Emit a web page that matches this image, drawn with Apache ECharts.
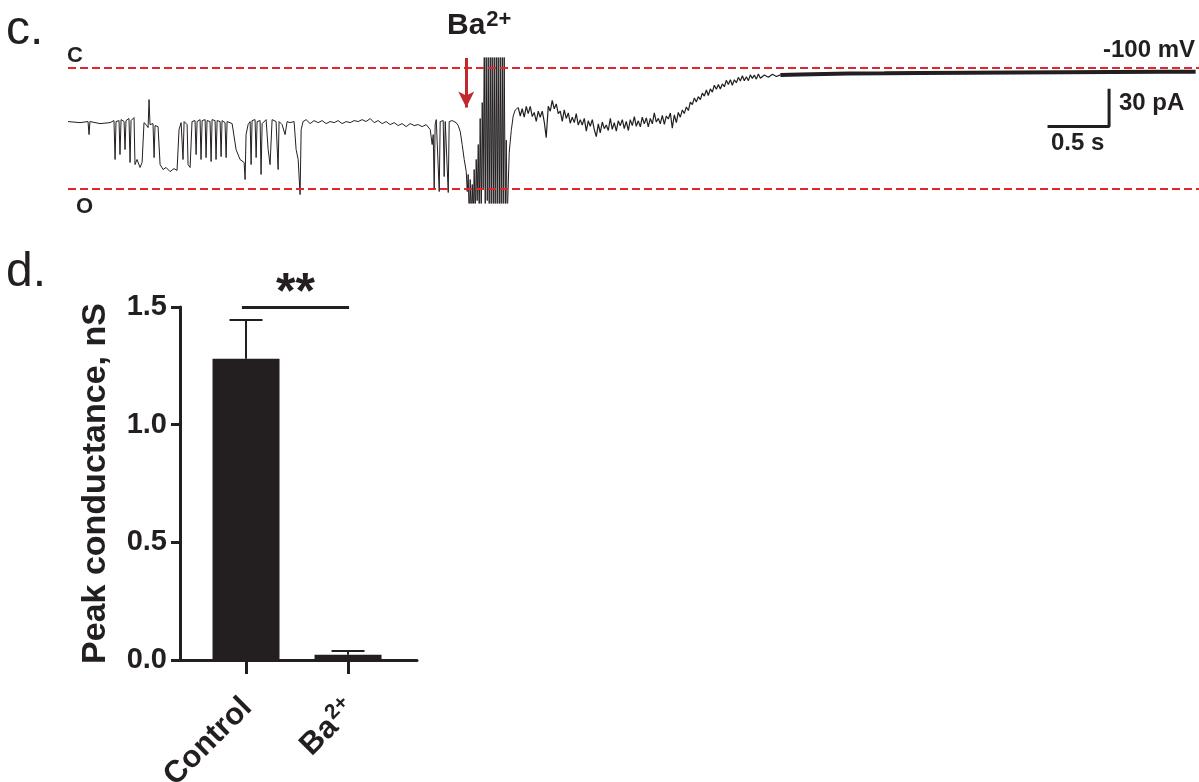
<!DOCTYPE html>
<html>
<head>
<meta charset="utf-8">
<script src="https://cdn.jsdelivr.net/npm/echarts@6/dist/echarts.min.js"></script>
<style>
    html, body { margin: 0; padding: 0; background: #fff; }
    #chart { width: 1199px; height: 782px; }
</style>
</head>
<body>
<div id="chart"></div>
<script>
// ---- panel c: single channel recording, [time s, current pA], closed level = 0 ----
var preDrug = [
    [0,-44.6],[0.100,-45.5],[0.167,-44.6],[0.175,-55.4],[0.183,-44.6],[0.267,-46.3],[0.350,-45.5],[0.383,-43.8],
    [0.392,-76.0],[0.400,-44.6],[0.425,-43.8],[0.433,-71.9],[0.442,-43.0],[0.467,-44.6],[0.475,-67.8],[0.483,-43.8],
    [0.508,-42.1],[0.517,-78.5],[0.525,-43.8],[0.550,-41.3],[0.558,-80.2],[0.575,-76.0],[0.600,-82.6],[0.617,-78.5],
    [0.633,-45.5],[0.650,-47.1],[0.667,-49.6],[0.675,-26.4],[0.683,-47.1],[0.708,-46.3],[0.717,-74.4],[0.725,-47.9],
    [0.750,-48.8],[0.767,-80.2],[0.792,-84.3],[0.817,-82.6],[0.850,-86.0],[0.883,-83.5],[0.908,-85.1],[0.925,-51.2],
    [0.942,-45.5],[0.958,-76.0],[0.967,-44.6],[0.992,-47.1],[1.000,-80.2],[1.017,-82.6],[1.033,-44.6],[1.058,-43.8],
    [1.067,-71.9],[1.075,-44.6],[1.100,-43.0],[1.108,-76.0],[1.117,-43.8],[1.142,-43.0],[1.150,-74.4],[1.158,-43.8],
    [1.183,-44.6],[1.192,-77.7],[1.200,-43.0],[1.225,-43.8],[1.233,-76.0],[1.242,-43.8],[1.267,-44.6],[1.275,-73.6],
    [1.283,-43.8],[1.308,-45.5],[1.317,-74.4],[1.325,-44.6],[1.367,-46.3],[1.400,-67.8],[1.433,-76.0],[1.467,-78.5],
    [1.475,-92.6],[1.483,-55.4],[1.500,-47.1],[1.517,-44.6],[1.525,-80.2],[1.533,-43.8],[1.558,-43.0],[1.567,-74.4],
    [1.575,-44.6],[1.600,-43.8],[1.608,-88.4],[1.617,-46.3],[1.650,-43.0],[1.667,-67.8],[1.683,-80.2],[1.700,-43.0],
    [1.733,-44.6],[1.750,-84.3],[1.758,-44.6],[1.783,-47.1],[1.808,-55.4],[1.825,-44.6],[1.850,-45.5],[1.883,-44.6],
    [1.900,-67.8],[1.917,-76.0],[1.933,-105.0],[1.942,-51.2],[1.958,-44.6],[1.983,-43.0]
];
var preBaBaseline = [
    [2.017,-46.3],[2.050,-43.8],[2.083,-45.5],[2.117,-43.8],[2.150,-46.3],[2.183,-44.6],[2.217,-45.5],[2.250,-43.8],
    [2.283,-46.3],[2.317,-44.6],[2.350,-45.5],[2.383,-43.8],[2.417,-44.6],[2.450,-43.0],[2.483,-44.6],[2.517,-42.1],
    [2.550,-45.5],[2.583,-43.8],[2.617,-46.3],[2.650,-44.6],[2.683,-47.1],[2.717,-45.5],[2.750,-47.9],[2.783,-46.3],
    [2.817,-48.8],[2.850,-46.3],[2.883,-47.9],[2.917,-47.1],[2.950,-48.8],[2.983,-47.1]
];
var baResponse = [
    [3.017,-51.2],[3.033,-63.6],[3.042,-55.4],[3.050,-100.8],[3.058,-47.1],[3.067,-43.0],[3.083,-44.6],[3.092,-102.5],
    [3.100,-44.6],[3.125,-43.8],[3.133,-90.1],[3.142,-44.6],[3.158,-43.8],[3.167,-103.3],[3.175,-44.6],[3.200,-43.8],
    [3.233,-45.5],[3.250,-47.9],[3.267,-52.9],[3.283,-63.6],[3.300,-76.0],[3.317,-86.0],[3.325,-102.5],[3.333,-88.4],
    [3.342,-125],[3.350,-92.6],[3.358,-125],[3.367,-96.7],[3.375,-125],[3.383,-84.3],[3.392,-125],[3.400,-76.0],
    [3.408,-110],[3.417,-63.6],[3.425,-125],[3.433,-42.1],[3.442,-125],[3.450,-28.9],[3.458,-100],[3.467,15],
    [3.475,-125],[3.483,15],[3.492,-110],[3.500,15],[3.508,-125],[3.517,15],[3.525,-125],[3.533,15],
    [3.542,-125],[3.550,15],[3.558,-125],[3.567,15],[3.575,-125],[3.583,15],[3.592,-125],[3.600,15],
    [3.608,-125],[3.617,12],[3.625,-125],[3.633,15],[3.642,-125],[3.650,-60],[3.658,-125],[3.675,-70],
    [3.692,-52],[3.708,-40],[3.725,-35],[3.750,-33]
];
var recovery = [
    [3.750,-33],[3.767,-40],[3.783,-34],[3.800,-41],[3.817,-32],[3.833,-38],[3.850,-32],[3.867,-40.5],
    [3.883,-37],[3.900,-44.5],[3.917,-36],[3.933,-41],[3.950,-36],[3.967,-45],[3.983,-58],[4.000,-32],
    [4.017,-36],[4.033,-27],[4.050,-34],[4.067,-30],[4.083,-38],[4.100,-36],[4.117,-44.5],[4.133,-35],
    [4.150,-42],[4.167,-37.5],[4.183,-46],[4.200,-41],[4.217,-45.5],[4.233,-38],[4.250,-47.5],[4.267,-43],
    [4.283,-47.5],[4.300,-42],[4.317,-52.5],[4.333,-44],[4.350,-48.5],[4.367,-43],[4.383,-51],[4.400,-57],
    [4.417,-46.5],[4.433,-54],[4.450,-45],[4.467,-50.5],[4.483,-47.5],[4.500,-52],[4.517,-42],[4.533,-51],
    [4.550,-45.5],[4.567,-52.5],[4.583,-44],[4.600,-48],[4.617,-43],[4.633,-50.5],[4.650,-44.5],[4.667,-52],
    [4.683,-43],[4.700,-48],[4.717,-40.5],[4.733,-48.5],[4.750,-44],[4.767,-49],[4.783,-41],[4.800,-46.5],
    [4.817,-41.5],[4.833,-49],[4.850,-42],[4.867,-46.5],[4.883,-37.5],[4.900,-45],[4.917,-42],[4.933,-46.5],
    [4.950,-39.5],[4.967,-47],[4.983,-40],[5.000,-42.5],[5.017,-37.5],[5.033,-50],[5.050,-39],[5.067,-45.5],
    [5.083,-37],[5.100,-41],[5.117,-35],[5.133,-38],[5.150,-32.5],[5.167,-35.5],[5.183,-28.5],[5.200,-30.5],
    [5.217,-25],[5.233,-28.5],[5.250,-24],[5.267,-26.5],[5.283,-21],[5.300,-23.5],[5.317,-18.5],[5.333,-23],
    [5.350,-17.5],[5.367,-20.2],[5.383,-14.5],[5.400,-17.8],[5.417,-14],[5.433,-17.7],[5.450,-13.5],[5.467,-15.8],
    [5.483,-10.5],[5.500,-14],[5.517,-10],[5.533,-14.5],[5.550,-10],[5.567,-12.5],[5.583,-8],[5.600,-11.1],
    [5.617,-6.7],[5.633,-10.8],[5.650,-7.5],[5.667,-10.7],[5.683,-6],[5.700,-8.9],[5.717,-6.2],[5.733,-9.5],
    [5.750,-5.3],[5.767,-8.7],[5.800,-6],[5.833,-8],[5.867,-5.5],[5.900,-7.3],[5.933,-6]
];
var steadyState = [
    [5.933,-6],[6.100,-5.6],[6.300,-5.2],[6.500,-4.9],[6.800,-4.7],[7.100,-4.4],[7.500,-4.2],[7.900,-4.0],
    [8.300,-3.8],[8.700,-3.6],[9.100,-3.4],[9.392,-3.3]
];
var closedLevel = 0;
var openLevel = -100;
var baApplyTime = 3.317;
var scaleTime = 0.5;      // s
var scaleCurrent = 30;    // pA
var scaleCorner = [8.671, -48.6];

// ---- panel d: peak conductance ----
var categories = ['Control', 'Ba2+'];
var conductance = [1.28, 0.022];
var sem = [0.165, 0.016];
var yTicks = [0, 0.5, 1.0, 1.5];

var ink = '#231f20';
var red = '#e3262c';
var font = 'Liberation Sans, Arial, Helvetica, sans-serif';

var myChart = echarts.init(document.getElementById('chart'));

var barData = categories.map(function (c, i) { return [i + 1, conductance[i]]; });
var errData = categories.map(function (c, i) { return [i + 1, conductance[i], conductance[i] + sem[i]]; });
var scaleBar = [
    [scaleCorner[0] - scaleTime, scaleCorner[1]],
    [scaleCorner[0], scaleCorner[1]],
    [scaleCorner[0], scaleCorner[1] + scaleCurrent]
];

myChart.setOption({
    animation: false,
    backgroundColor: '#fff',
    textStyle: { fontFamily: font, color: ink },
    grid: [
        { left: 68, top: 58, width: 1131, height: 145, outerBoundsMode: 'none' },
        { left: 180, top: 307, width: 237, height: 353, outerBoundsMode: 'none' }
    ],
    xAxis: [
        { gridIndex: 0, type: 'value', min: 0, max: 9.42, show: false },
        {
            gridIndex: 1, type: 'value', min: 0.353, max: 2.676,
            splitLine: { show: false },
            axisLine: { show: true, lineStyle: { color: ink, width: 3 } },
            axisTick: { show: true, customValues: [1, 2], length: 14, lineStyle: { color: ink, width: 3 } },
            axisLabel: {
                customValues: [1, 2], rotate: 45, margin: 22, verticalAlign: 'top', padding: [0, 14, 0, 0],
                fontSize: 31, fontWeight: 'bold', color: ink, fontFamily: font,
                formatter: function (v) {
                    return v === 1 ? '{b|' + categories[0] + '}' : '{b|Ba}{s|2+}';
                },
                rich: {
                    b: { fontSize: 31, fontWeight: 'bold', color: ink, fontFamily: font },
                    s: { fontSize: 21, fontWeight: 'bold', color: ink, fontFamily: font, padding: [0, 0, 16, 1] }
                }
            }
        }
    ],
    yAxis: [
        { gridIndex: 0, type: 'value', min: -112, max: 8, show: false },
        {
            gridIndex: 1, type: 'value', min: 0, max: 1.5, interval: 0.5,
            splitLine: { show: false },
            axisLine: { show: true, onZero: false, lineStyle: { color: ink, width: 3 } },
            axisTick: { show: true, length: 9, lineStyle: { color: ink, width: 3 } },
            axisLabel: {
                fontSize: 29, fontWeight: 'bold', color: ink, margin: 13, fontFamily: font,
                formatter: function (v) { return v.toFixed(1); }
            },
            name: 'Peak conductance, nS',
            nameLocation: 'middle', nameRotate: 90, nameGap: 67,
            nameTextStyle: { fontSize: 34, fontWeight: 'bold', color: ink, fontFamily: font }
        }
    ],
    series: [
        {
            name: 'pre', type: 'line', xAxisIndex: 0, yAxisIndex: 0,
            data: preDrug.concat(preBaBaseline, baResponse),
            showSymbol: false, lineStyle: { color: ink, width: 1 }, z: 3,
            markLine: {
                silent: true, symbol: 'none',
                label: { show: false },
                lineStyle: { color: red, width: 2, type: [8, 4] },
                data: [
                    { yAxis: closedLevel },
                    { yAxis: openLevel },
                    [
                        { coord: [baApplyTime, 8], symbol: 'none', lineStyle: { color: '#c1272d', width: 3, type: 'solid' } },
                        { coord: [baApplyTime, -33], symbol: 'arrow', symbolSize: [12, 16] }
                    ]
                ]
            }
        },
        {
            name: 'recovery', type: 'line', xAxisIndex: 0, yAxisIndex: 0,
            data: recovery, showSymbol: false, lineStyle: { color: ink, width: 1.2 }, z: 3
        },
        {
            name: 'steady', type: 'line', xAxisIndex: 0, yAxisIndex: 0,
            data: steadyState, showSymbol: false, lineStyle: { color: ink, width: 4 }, z: 3
        },
        {
            name: 'scale', type: 'line', xAxisIndex: 0, yAxisIndex: 0,
            data: scaleBar, showSymbol: false, lineStyle: { color: ink, width: 3, cap: 'square' }, z: 3
        },
        {
            name: 'conductance', type: 'bar', xAxisIndex: 1, yAxisIndex: 1,
            data: barData, barWidth: 67, itemStyle: { color: ink },
            markLine: {
                silent: true, symbol: 'none',
                lineStyle: { color: ink, width: 3, type: 'solid' },
                label: { show: true, position: 'middle', formatter: '**', fontSize: 50, fontWeight: 'bold', color: ink, distance: -12 },
                data: [[{ coord: [0.96, 1.5] }, { coord: [2.01, 1.5] }]]
            }
        },
        {
            name: 'sem', type: 'custom', xAxisIndex: 1, yAxisIndex: 1,
            data: errData, z: 5,
            renderItem: function (params, api) {
                var base = api.coord([api.value(0), api.value(1)]);
                var top = api.coord([api.value(0), api.value(2)]);
                var half = 16.5;
                return {
                    type: 'group',
                    children: [
                        { type: 'line', shape: { x1: top[0], y1: base[1], x2: top[0], y2: top[1] }, style: { stroke: ink, lineWidth: 2 } },
                        { type: 'line', shape: { x1: top[0] - half, y1: top[1], x2: top[0] + half, y2: top[1] }, style: { stroke: ink, lineWidth: 2 } }
                    ]
                };
            }
        }
    ],
    graphic: [
        { type: 'text', left: 6, top: 7, style: { text: 'c.', fontSize: 48, fontFamily: font, fill: ink } },
        { type: 'text', left: 6, top: 249, style: { text: 'd.', fontSize: 48, fontFamily: font, fill: ink } },
        { type: 'text', left: 447, top: 9, style: {
            text: '{b|Ba}{s|2+}', fill: ink,
            rich: {
                b: { fontSize: 30, fontWeight: 'bold', fontFamily: font, fill: ink },
                s: { fontSize: 22, fontWeight: 'bold', fontFamily: font, fill: ink, padding: [0, 0, 12, 1] }
            }
        } },
        { type: 'text', left: 67, top: 45, style: { text: 'C', fontSize: 22, fontWeight: 'bold', fontFamily: font, fill: ink } },
        { type: 'text', left: 76, top: 196, style: { text: 'O', fontSize: 22, fontWeight: 'bold', fontFamily: font, fill: ink } },
        { type: 'text', right: 4, top: 38, style: { text: '-100 mV', fontSize: 24, fontWeight: 'bold', fontFamily: font, fill: ink } },
        { type: 'text', left: 1119, top: 91, style: { text: '30 pA', fontSize: 24, fontWeight: 'bold', fontFamily: font, fill: ink } },
        { type: 'text', left: 1051, top: 131, style: { text: '0.5 s', fontSize: 24, fontWeight: 'bold', fontFamily: font, fill: ink } }
    ]
});
</script>
</body>
</html>
